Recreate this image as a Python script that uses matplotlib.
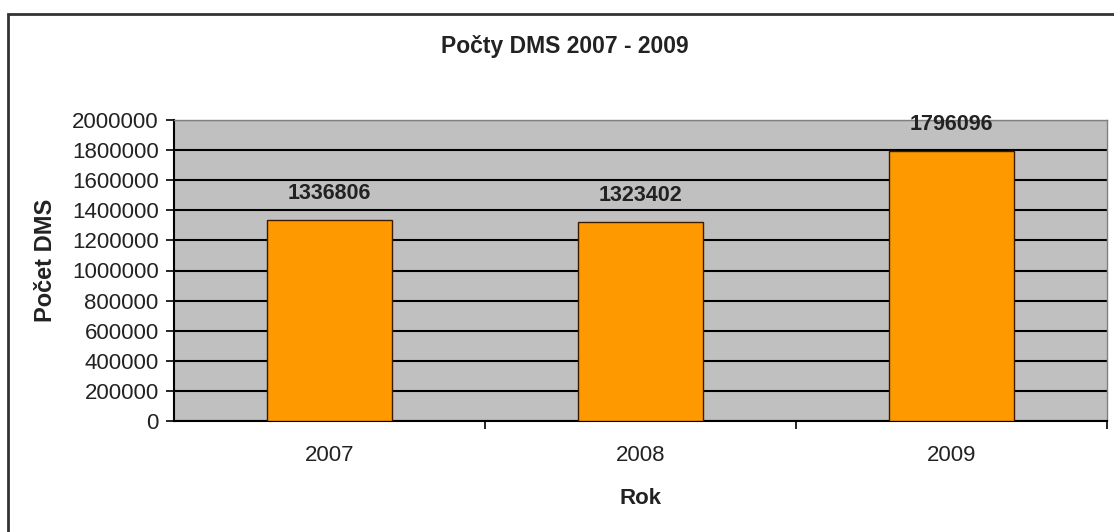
import matplotlib.pyplot as plt
from matplotlib.patches import Rectangle

plt.rcParams['font.family'] = ['Liberation Sans', 'DejaVu Sans']

roky = ['2007', '2008', '2009']
pocty = [1336806, 1323402, 1796096]
y_ticks = [0, 200000, 400000, 600000, 800000, 1000000, 1200000,
           1400000, 1600000, 1800000, 2000000]

W, H = 1114, 532
fig = plt.figure(figsize=(W / 100, H / 100), dpi=100)
ax = fig.add_axes([174 / W, 1 - 421 / H, 933 / W, 301 / H])

# vnejsi ramecek grafu
fig.patches.append(Rectangle((8 / W, -0.1), 1.2, 1 - 14 / H + 0.1,
                             transform=fig.transFigure, fill=False,
                             edgecolor='#333333', lw=2))

ax.set_facecolor('#C0C0C0')
x = list(range(len(roky)))
ax.bar(x, pocty, width=0.4, color='#FF9900', edgecolor='#3a1a00', lw=1, zorder=3)
for xi, v in zip(x, pocty):
    ax.annotate(str(v), (xi, v), xytext=(0, 19), textcoords='offset points',
                ha='center', va='center', fontsize=15.5, fontweight='bold',
                color='#222222', zorder=4)

ax.set_xlim(-0.5, len(roky) - 0.5)
ax.set_ylim(0, 2000000)
ax.set_yticks(y_ticks)
ax.set_yticklabels([str(t) for t in y_ticks], fontsize=16, color='#222222')
ax.yaxis.grid(True, color='black', lw=1.5, zorder=1)
ax.set_axisbelow(True)

ax.set_xticks(x)
ax.set_xticklabels(roky, fontsize=16, color='#222222')
ax.tick_params(axis='x', length=0, pad=17)
ax.set_xticks([0.5, 1.5, 2.5], minor=True)
ax.tick_params(axis='x', which='minor', length=6, width=1.2, color='black')
ax.tick_params(axis='y', length=6, width=1.2, color='black', pad=5)

for s in ['top', 'right']:
    ax.spines[s].set_color('#808080')
    ax.spines[s].set_linewidth(1)
for s in ['left', 'bottom']:
    ax.spines[s].set_color('black')
    ax.spines[s].set_linewidth(1.5)

ax.set_xlabel('Rok', fontsize=16, fontweight='bold', labelpad=16, color='#222222')
fig.text(45 / W, 1 - 260 / H, 'Počet DMS', rotation=90, ha='center',
         va='center', fontsize=17, fontweight='bold', color='#222222')
fig.text(565 / W, 1 - 47 / H, 'Počty DMS 2007 - 2009', ha='center',
         va='center', fontsize=16.5, fontweight='bold', color='#222222')

fig.savefig('out.png', dpi=100)
